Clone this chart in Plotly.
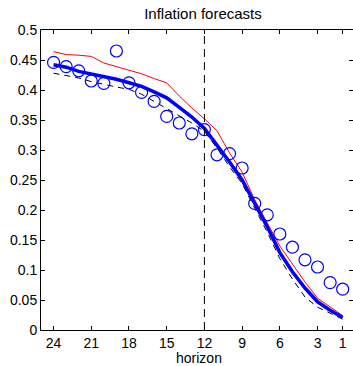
import plotly.graph_objects as go

# Forecast horizon (months ahead), plotted from 24 down to 1
horizon = list(range(24, 0, -1))

# Realised inflation (circles)
actual = [0.446, 0.439, 0.432, 0.415, 0.411, 0.465, 0.412, 0.396, 0.381, 0.356,
          0.345, 0.327, 0.334, 0.292, 0.294, 0.270, 0.211, 0.192, 0.160, 0.138,
          0.117, 0.105, 0.079, 0.068]

# Upper forecast path (thin red)
upper = [0.464, 0.459, 0.458, 0.456, 0.445, 0.439, 0.433, 0.427, 0.419, 0.412,
         0.390, 0.370, 0.352, 0.332, 0.295, 0.263, 0.217, 0.178, 0.140, 0.110,
         0.080, 0.053, 0.039, 0.024]

# Central forecast (thick blue)
central = [0.442, 0.438, 0.431, 0.427, 0.422, 0.418, 0.412, 0.406, 0.397, 0.387,
           0.371, 0.355, 0.336, 0.309, 0.280, 0.250, 0.211, 0.172, 0.129, 0.097,
           0.070, 0.047, 0.033, 0.021]

# Lower forecast path (black dashed)
lower = [0.428, 0.424, 0.420, 0.414, 0.409, 0.405, 0.401, 0.393, 0.381, 0.369,
         0.358, 0.345, 0.331, 0.303, 0.272, 0.244, 0.203, 0.163, 0.119, 0.085,
         0.055, 0.038, 0.028, 0.018]

x_ticks = [24, 21, 18, 15, 12, 9, 6, 3, 1]
y_ticks = [0, 0.05, 0.1, 0.15, 0.2, 0.25, 0.3, 0.35, 0.4, 0.45, 0.5]
y_ticktext = ["0", "0.05", "0.1", "0.15", "0.2", "0.25", "0.3", "0.35", "0.4", "0.45", "0.5"]
split_horizon = 12

font_family = "Liberation Sans, Arial, sans-serif"

fig = go.Figure()

fig.add_trace(go.Scatter(
    x=horizon, y=upper, mode="lines",
    line=dict(color="#ff0000", width=1), hoverinfo="skip", showlegend=False))

fig.add_trace(go.Scatter(
    x=horizon, y=lower, mode="lines",
    line=dict(color="black", width=1, dash="6px,5px"), showlegend=False))

fig.add_trace(go.Scatter(
    x=horizon, y=central, mode="lines",
    line=dict(color="#0000ff", width=3.5), showlegend=False))

fig.add_trace(go.Scatter(
    x=horizon, y=actual, mode="markers",
    marker=dict(symbol="circle-open", size=12, color="#0000ff", line=dict(width=1.2)),
    showlegend=False))

fig.add_shape(type="line", xref="x", yref="y",
              x0=split_horizon, x1=split_horizon, y0=0, y1=0.5,
              line=dict(color="black", width=1, dash="8px,5px"))

# x-axis label placed just under the tick labels
fig.add_annotation(text="horizon", xref="paper", yref="paper",
                   x=0.505, y=-28 / 300, xanchor="center", yanchor="middle",
                   showarrow=False, font=dict(size=14, color="black"))

fig.update_layout(
    width=353, height=366,
    margin=dict(l=41, r=0, t=30, b=36),
    paper_bgcolor="white", plot_bgcolor="white",
    font=dict(family=font_family, size=14, color="black"),
    title=dict(text="Inflation forecasts", x=0.575, xanchor="center",
               y=1 - 14 / 366, yanchor="middle", font=dict(size=15)),
    xaxis=dict(
        range=[25, 0.18], tickmode="array", tickvals=x_ticks,
        ticks="inside", ticklen=4, tickcolor="black", showline=True,
        linecolor="black", linewidth=1, mirror="ticks", showgrid=False,
        zeroline=False, tickfont=dict(size=14)),
    yaxis=dict(
        range=[0, 0.5], tickmode="array", tickvals=y_ticks, ticktext=y_ticktext,
        ticks="inside", ticklen=4, tickcolor="black", showline=True,
        linecolor="black", linewidth=1, mirror="ticks", showgrid=False,
        zeroline=False, tickfont=dict(size=14)),
)

fig.write_html("out.html")
